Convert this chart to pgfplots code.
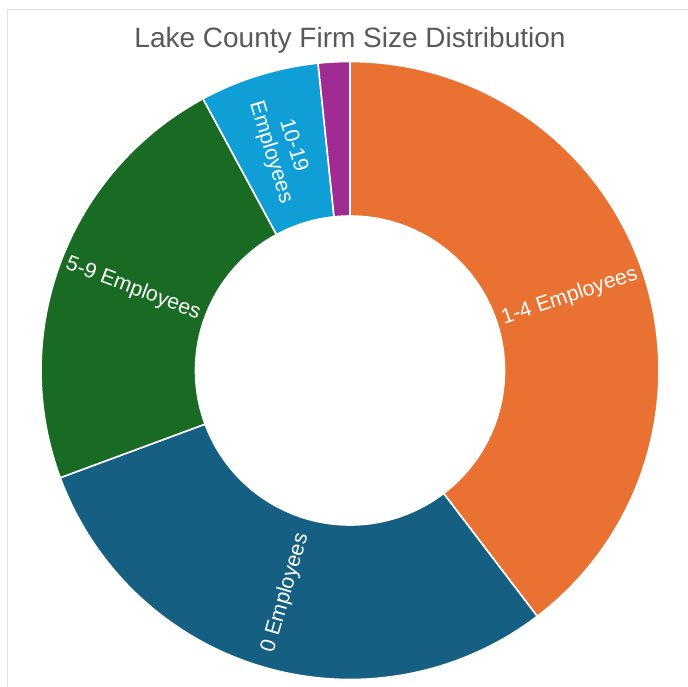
\documentclass[border=0pt]{standalone}
\usepackage{pgfplots}
\pgfplotsset{compat=1.18}
\usepackage{fontspec}
\setmainfont{Liberation Sans}
\definecolor{cZero}{HTML}{156082}
\definecolor{cOne}{HTML}{E97132}
\definecolor{cFive}{HTML}{196B24}
\definecolor{cTen}{HTML}{0F9ED5}
\definecolor{cTwenty}{HTML}{A02B93}
\definecolor{titlegray}{HTML}{595959}
% shares in percent, clockwise from 12 o'clock
\def\vOne{39.64}   % 1-4 Employees
\def\vZero{29.72}  % 0 Employees
\def\vFive{22.75}  % 5-9 Employees
\def\vTen{6.24}    % 10-19 Employees
\def\vTwenty{1.65} % 20+ Employees
\newcommand{\slice}[3]{%
  \addplot[fill=#3, draw=white, line width=1.6pt, line join=round, domain=0:4, samples=401, variable=\t]
    ({(1-0.5*(min(max(\t,1),2)-1)+0.5*(max(min(\t,4),3)-3))*cos(#1+(#2-#1)*(min(\t,1)-max(min(\t,3),2)+2))},
     {(1-0.5*(min(max(\t,1),2)-1)+0.5*(max(min(\t,4),3)-3))*sin(#1+(#2-#1)*(min(\t,1)-max(min(\t,3),2)+2))});
}
\begin{document}
\begin{tikzpicture}
\path[use as bounding box] (0pt,0pt) rectangle (688pt,-686pt);
\draw[color=black!12, line width=1pt] (7.3pt,-690pt) -- (7.3pt,-9.3pt) -- (690pt,-9.3pt);
\node[anchor=base, text=titlegray, font=\fontsize{28}{33}\selectfont] at (350pt,-47pt) {Lake County Firm Size Distribution};
\pgfmathsetmacro\aA{90}
\pgfmathsetmacro\aB{\aA-3.6*\vOne}
\pgfmathsetmacro\aC{\aB-3.6*\vZero}
\pgfmathsetmacro\aD{\aC-3.6*\vFive}
\pgfmathsetmacro\aE{\aD-3.6*\vTen}
\pgfmathsetmacro\aF{\aE-3.6*\vTwenty}
\pgfmathsetmacro\mA{(\aA+\aB)/2}
\pgfmathsetmacro\mB{(\aB+\aC)/2}
\pgfmathsetmacro\mC{(\aC+\aD)/2}
\pgfmathsetmacro\mD{(\aD+\aE)/2}
\begin{axis}[at={(350pt,-370.5pt)}, anchor=center, scale only axis, width=618pt, height=618pt,
  xmin=-1, xmax=1, ymin=-1, ymax=1, hide axis, clip=false]
\slice{\aA}{\aB}{cOne}
\slice{\aB}{\aC}{cZero}
\slice{\aC}{\aD}{cFive}
\slice{\aD}{\aE}{cTen}
\slice{\aE}{\aF}{cTwenty}
\node[rotate=\mA, text=white, font=\fontsize{21.3}{23.5}\selectfont] at (axis cs:{0.75*cos(\mA)},{0.75*sin(\mA)}) {1-4 Employees};
\node[rotate=\mB+180, text=white, font=\fontsize{21.3}{23.5}\selectfont] at (axis cs:{0.75*cos(\mB)},{0.75*sin(\mB)}) {0 Employees};
\node[rotate=\mC+180, text=white, font=\fontsize{21.3}{23.5}\selectfont] at (axis cs:{0.75*cos(\mC)},{0.75*sin(\mC)}) {5-9 Employees};
\node[rotate=\mD+180, text=white, align=center, font=\fontsize{21.3}{23.5}\selectfont] at (axis cs:{0.75*cos(\mD)},{0.75*sin(\mD)}) {10-19\\Employees};
\end{axis}
\end{tikzpicture}
\end{document}
